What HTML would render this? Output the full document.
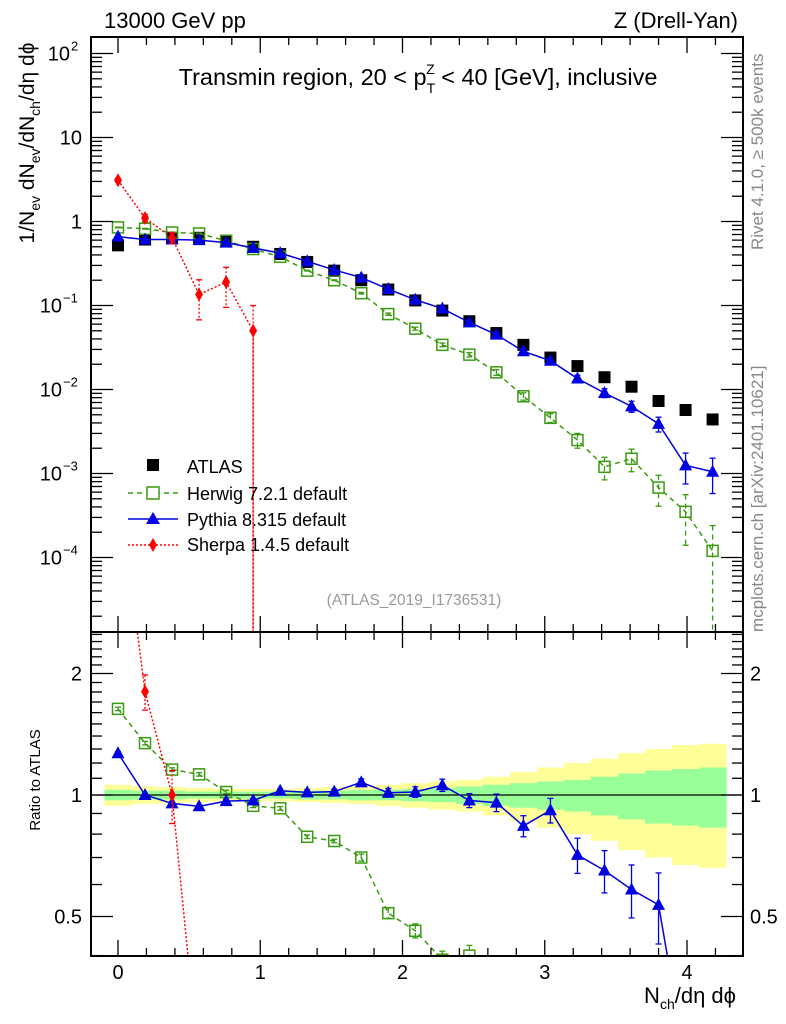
<!DOCTYPE html>
<html><head><meta charset="utf-8"><style>
body{margin:0;background:#fff;overflow:hidden;}
svg{display:block;font-family:"Liberation Sans",sans-serif;}
</style></head><body>
<svg id="c" width="786" height="1024" viewBox="0 0 786 1024" xmlns="http://www.w3.org/2000/svg">
<rect x="0" y="0" width="786" height="1024" fill="#fff"/>
<text x="104" y="28" font-size="22">13000 GeV pp</text>
<text x="738" y="28" font-size="22" text-anchor="end">Z (Drell-Yan)</text>
<text x="418" y="85" font-size="23.5" text-anchor="middle">Transmin region, 20 &lt; p<tspan font-size="14" dy="8">T</tspan><tspan font-size="14" dx="-9" dy="-19">Z</tspan><tspan dy="11"> &lt; 40 [GeV], inclusive</tspan></text>
<text transform="translate(763,250) rotate(-90)" font-size="17" fill="#888">Rivet 4.1.0, ≥ 500k events</text>
<text transform="translate(763,632) rotate(-90)" font-size="17" fill="#888">mcplots.cern.ch [arXiv:2401.10621]</text>
<text x="414" y="605" font-size="15.5" fill="#999" text-anchor="middle">(ATLAS_2019_I1736531)</text>
<text transform="translate(34,143) rotate(-90)" font-size="21" text-anchor="middle">1/N<tspan font-size="14" dy="6">ev</tspan><tspan dy="-6"> dN</tspan><tspan font-size="14" dy="6">ev</tspan><tspan dy="-6">/dN</tspan><tspan font-size="14" dy="6">ch</tspan><tspan dy="-6">/dη dϕ</tspan></text>
<text transform="translate(40,780) rotate(-90)" font-size="15" text-anchor="middle">Ratio to ATLAS</text>
<text x="736" y="1003" font-size="22" text-anchor="end">N<tspan font-size="14" dy="6">ch</tspan><tspan dy="-6">/dη dϕ</tspan></text>
<g id="main"></g><g id="ratio"></g><g id="axes"></g>
<g>
<rect x="147" y="459" width="12" height="12" fill="#000"/>
<text x="187" y="473" font-size="18">ATLAS</text>
<line x1="128" y1="493" x2="178" y2="493" stroke="#3a9a12" stroke-width="1.5" stroke-dasharray="5,4"/>
<rect x="147" y="487" width="12" height="12" fill="#fff" stroke="#3a9a12" stroke-width="1.5"/>
<text x="187" y="500" font-size="18">Herwig 7.2.1 default</text>
<line x1="128" y1="519" x2="178" y2="519" stroke="#0000e0" stroke-width="1.5"/>
<path d="M153,512 L160,524 L146,524Z" fill="#0000e0"/>
<text x="187" y="526" font-size="18">Pythia 8.315 default</text>
<line x1="128" y1="545" x2="178" y2="545" stroke="#f00" stroke-width="1.5" stroke-dasharray="2,2"/>
<path d="M153,538 L157,545 L153,552 L149,545Z" fill="#f00"/>
<text x="187" y="551" font-size="18">Sherpa 1.4.5 default</text>
</g>
</svg>
<script>
const xs=[0,0.19,0.38,0.57,0.76,0.95,1.14,1.33,1.52,1.71,1.9,2.09,2.28,2.47,2.66,2.85,3.04,3.23,3.42,3.61,3.8,3.99,4.18];
const atlas=[0.52,0.61,0.64,0.64,0.58,0.5,0.41,0.33,0.26,0.2,0.155,0.115,0.087,0.065,0.047,0.034,0.024,0.019,0.014,0.0108,0.0073,0.0057,0.0044];
const atlasStat=[0.03,0.025,0.025,0.02,0.02,0.02,0.02,0.025,0.025,0.03,0.03,0.035,0.04,0.05,0.06,0.07,0.08,0.09,0.11,0.13,0.15,0.16,0.17];
const atlasTot=[0.06,0.05,0.045,0.04,0.035,0.035,0.035,0.04,0.045,0.05,0.06,0.07,0.08,0.09,0.11,0.14,0.17,0.2,0.23,0.27,0.3,0.33,0.34];
const herwig=[0.85,0.82,0.74,0.72,0.59,0.47,0.38,0.26,0.2,0.14,0.079,0.053,0.034,0.026,0.016,0.0083,0.0046,0.0025,0.0012,0.0015,0.00068,0.00035,0.00012];
const herwigErr=[0.01,0.01,0.01,0.01,0.01,0.01,0.01,0.01,0.01,0.02,0.03,0.04,0.05,0.06,0.08,0.1,0.12,0.2,0.3,0.3,0.4,0.6,1.0];
const pythia=[0.66,0.61,0.61,0.6,0.56,0.485,0.42,0.335,0.265,0.215,0.157,0.117,0.092,0.063,0.045,0.0285,0.022,0.0135,0.0091,0.0063,0.0039,0.00125,0.00105];
const pythiaErr=[0.01,0.01,0.01,0.01,0.01,0.01,0.01,0.015,0.015,0.02,0.025,0.03,0.035,0.04,0.05,0.06,0.07,0.1,0.12,0.15,0.2,0.4,0.45];
const sherpaX=[0,0.19,0.38,0.57,0.76,0.95];
const sherpa=[3.1,1.1,0.64,0.135,0.19,0.05];
const sherpaErr=[0.05,0.1,0.15,0.5,0.5,1.0];
const yTicks=[100,10,1,0.1,0.01,0.001,0.0001];
const yTickLabels=["10","10","1","10","10","10","10"];
const yTickExp=["2","","","−1","−2","−3","−4"];
const rTicks=[2,1,0.5];
const xTicks=[0,1,2,3,4];

const NS="http://www.w3.org/2000/svg";
const L=91,R=743,MT=37,MB=632,RB=956;
const X=v=>118+v*142.25;
const Y=v=>221.5-Math.log10(v)*84;
const YR=v=>795-Math.log10(v)*403.6;
function el(p,t,a){const e=document.createElementNS(NS,t);for(const k in a)e.setAttribute(k,a[k]);p.appendChild(e);return e;}
const main=document.getElementById('main'),ratio=document.getElementById('ratio'),axes=document.getElementById('axes');
const clipD=el(document.getElementById('c'),'defs',{});
const cp1=el(clipD,'clipPath',{id:'cm'});el(cp1,'rect',{x:L,y:MT,width:R-L,height:MB-MT});
const cp2=el(clipD,'clipPath',{id:'cr'});el(cp2,'rect',{x:L,y:MB,width:R-L,height:RB-MB});
main.setAttribute('clip-path','url(#cm)');ratio.setAttribute('clip-path','url(#cr)');
const bw=0.095;
xs.forEach((x,i)=>{
 let b=el(ratio,'rect',{x:X(x-bw),y:YR(1+atlasTot[i]),width:X(x+bw)-X(x-bw)+0.5,height:YR(1-atlasTot[i])-YR(1+atlasTot[i]),fill:'#ffff99'});
 
 
 let g=el(ratio,'rect',{x:X(x-bw),y:YR(1+atlasStat[i]),width:X(x+bw)-X(x-bw)+0.5,height:YR(1-atlasStat[i])-YR(1+atlasStat[i]),fill:'#99ff99'});
 
 
});
el(ratio,'line',{x1:L,x2:R,y1:YR(1),y2:YR(1),stroke:'#000','stroke-width':1.2});
function series(g,xv,yv,err,yf,col,dash,marker,name){
 const pts=xv.map((x,i)=>[X(x),yf(yv[i])]);
 let p=el(g,'polyline',{points:pts.map(p=>p.join(',')).join(' '),fill:'none',stroke:col,'stroke-width':1.5,'stroke-dasharray':dash});
 
 
 xv.forEach((x,i)=>{
  const v=yv[i],e=err[i];
  if(e>0){
  const y1=yf(v*(1+e)),y2=yf(Math.max(v*(1-e),1e-9));
  el(g,'line',{x1:X(x),x2:X(x),y1:y1,y2:y2,stroke:col,'stroke-width':1.3,'stroke-dasharray':dash});
  el(g,'line',{x1:X(x)-3,x2:X(x)+3,y1:y1,y2:y1,stroke:col,'stroke-width':1.3});
  el(g,'line',{x1:X(x)-3,x2:X(x)+3,y1:y2,y2:y2,stroke:col,'stroke-width':1.3});}
  const cx=X(x),cy=yf(v);let m;
  if(marker==='sq')m=el(g,'rect',{x:cx-5.5,y:cy-5.5,width:11,height:11,fill:'none',stroke:col,'stroke-width':1.5});
  else if(marker==='tri')m=el(g,'path',{d:`M${cx},${cy-7}L${cx+6.5},${cy+5}L${cx-6.5},${cy+5}Z`,fill:col});
  else m=el(g,'path',{d:`M${cx},${cy-7}L${cx+4},${cy}L${cx},${cy+7}L${cx-4},${cy}Z`,fill:col});
  
  
 });
}
xs.forEach((x,i)=>{
 let r=el(main,'rect',{x:X(x)-6,y:Y(atlas[i])-6,width:12,height:12,fill:'#000'});
 
 
});
series(main,xs,herwig,herwigErr,Y,'#3a9a12','5,4','sq','herwig');
series(main,xs,pythia,pythiaErr,Y,'#0000e0','','tri','pythia');
series(main,sherpaX,sherpa,sherpaErr,Y,'#f00','2,2','dia','sherpa');
el(main,'line',{x1:X(sherpaX[5]),x2:X(sherpaX[5]),y1:Y(sherpa[5]),y2:MB,stroke:'#f00','stroke-width':1.5,'stroke-dasharray':'2,2'});
series(ratio,xs,herwig.map((v,i)=>v/atlas[i]),herwigErr,YR,'#3a9a12','5,4','sq','herwig-ratio');
series(ratio,xs,pythia.map((v,i)=>v/atlas[i]),pythiaErr,YR,'#0000e0','','tri','pythia-ratio');
series(ratio,sherpaX.slice(0,4),sherpa.slice(0,4).map((v,i)=>v/atlas[i]),sherpaErr.slice(0,3).concat([0]),YR,'#f00','2,2','dia','sherpa-ratio');
[[MT,MB],[MB,RB]].forEach(([t,b])=>{el(axes,'rect',{x:L,y:t,width:R-L,height:b-t,fill:'none',stroke:'#000','stroke-width':2});});
for(let k=-1;k<=23;k++){const v=k*0.2;const x=X(v);if(x<L||x>R)continue;const maj=Math.abs(v-Math.round(v))<1e-6;const len=maj?16:8;
 [[MT,1],[MB,-1],[MB,1],[RB,-1]].forEach(([y,d])=>el(axes,'line',{x1:x,x2:x,y1:y,y2:y+d*len,stroke:'#000','stroke-width':1.3}));}
xTicks.forEach(v=>{let t=el(axes,'text',{x:X(v),y:979,'font-size':20,'text-anchor':'middle'});t.textContent=v;
 
 });
for(let d=-5;d<=2;d++)for(let m=1;m<=9;m++){const v=m*Math.pow(10,d);const y=Y(v);if(y<MT||y>MB)continue;const len=m===1?22:11;
 el(axes,'line',{x1:L,x2:L+len,y1:y,y2:y,stroke:'#000','stroke-width':1.3});el(axes,'line',{x1:R,x2:R-len,y1:y,y2:y,stroke:'#000','stroke-width':1.3});}
yTicks.forEach((v,i)=>{let t=el(axes,'text',{x:yTickExp[i]?(yTickExp[i].length>1?62:70):82,y:Y(v)+7,'font-size':20,'text-anchor':'end'});t.textContent=yTickLabels[i];
 
 
 if(yTickExp[i]){let s=el(axes,'text',{x:t.getAttribute('x')*1+1,y:Y(v)-3,'font-size':13});s.textContent=yTickExp[i];}});
[0.4,0.5,0.6,0.7,0.8,0.9,1,1.1,1.2,1.3,1.4,1.5,1.6,1.7,1.8,1.9,2,2.1,2.2,2.3,2.4,2.5].forEach(v=>{const y=YR(v);if(y<MB||y>RB)return;
 const maj=(v===0.5||v===1||v===2);const len=maj?22:11;
 el(axes,'line',{x1:L,x2:L+len,y1:y,y2:y,stroke:'#000','stroke-width':1.3});el(axes,'line',{x1:R,x2:R-len,y1:y,y2:y,stroke:'#000','stroke-width':1.3});});
rTicks.forEach(v=>{[[82,'end'],[750,'start']].forEach(([x,a])=>{let t=el(axes,'text',{x:x,y:YR(v)+7,'font-size':20,'text-anchor':a});t.textContent=v;
 
 });});
</script>
</body></html>
